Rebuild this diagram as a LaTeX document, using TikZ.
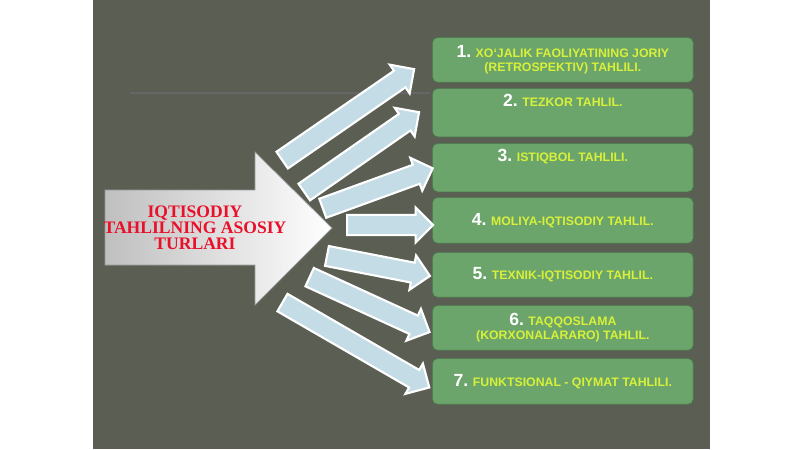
\documentclass[tikz,border=0pt]{standalone}
\usepackage{fontspec}
\setsansfont{Liberation Sans}
\setmainfont{Liberation Serif}
\usetikzlibrary{shapes.arrows,calc}
\definecolor{slide}{HTML}{5B5F53}
\definecolor{boxgreen}{HTML}{6BA56B}
\definecolor{lime}{HTML}{D8F03A}
\definecolor{pale}{HTML}{C4DCE6}
\definecolor{titlered}{HTML}{E8102A}
\tikzset{
  turbox/.style={draw=boxgreen!70!black, fill=boxgreen, rounded corners=3pt,
    minimum width=5.22cm, align=center, font=\sffamily\scriptsize\bfseries,
    text=lime, anchor=north west},
  thin arrow/.style={single arrow, draw=white, fill=pale, line width=1.2pt,
    inner xsep=0pt, inner ysep=0.17cm, minimum width=0.7cm,
    single arrow head extend=0.14cm, single arrow head indent=0pt}
}
\begin{document}
\begin{tikzpicture}[x=0.02cm, y=-0.02cm]
  \useasboundingbox (0,0) rectangle (800,449);
  \fill[white] (0,0) rectangle (800,449);
  % slide background
  \fill[slide] (93,0) rectangle (710,449);
  \draw[black!60, line width=0.6pt] (130,93) -- (430,93);

  % main arrow
  \shade[left color=black!25, right color=white, draw=black!40]
    (105,190) -- (255,190) -- (255,152) -- (332,228) -- (255,305) -- (255,265)
    -- (105,265) -- cycle;
  \node[align=center, text=titlered, font=\rmfamily\bfseries] (title)
    at (195,228) {IQTISODIY\\[-3pt]TAHLILNING ASOSIY\\[-3pt]TURLARI};

  % boxes
  \node[turbox, minimum height=0.9cm] (t1) at (432,37)
    {{\normalsize\color{white}1.} XO`JALIK FAOLIYATINING JORIY\\(RETROSPEKTIV) TAHLILI.};
  \node[turbox, minimum height=0.94cm, text depth=14pt] (t2) at (432,88)
    {{\normalsize\color{white}2.} TEZKOR TAHLIL.};
  \node[turbox, minimum height=0.92cm, text depth=14pt] (t3) at (432,143)
    {{\normalsize\color{white}3.} ISTIQBOL TAHLILI.};
  \node[turbox, minimum height=0.92cm] (t4) at (432,197)
    {{\normalsize\color{white}4.} MOLIYA-IQTISODIY TAHLIL.};
  \node[turbox, minimum height=0.9cm] (t5) at (432,252)
    {{\normalsize\color{white}5.} TEXNIK-IQTISODIY TAHLIL.};
  \node[turbox, minimum height=0.9cm] (t6) at (432,305)
    {{\normalsize\color{white}6.} TAQQOSLAMA\\(KORXONALARARO) TAHLIL.};
  \node[turbox, minimum height=0.92cm] (t7) at (432,358)
    {{\normalsize\color{white}7.} FUNKTSIONAL - QIYMAT TAHLILI.};

  % pointing arrows
  \foreach \sx/\sy/\ex/\ey [count=\i] in {278/163/410/72, 300/195/415/115,
      318/210/428/170, 342/225/428/225, 322/255/425/275, 305/275/425/330,
      278/300/425/385}{
    \coordinate (s\i) at (\sx,\sy);
    \coordinate (e\i) at (\ex,\ey);
    \path let \p1=(s\i), \p2=(e\i), \n1={atan2(\y2-\y1,\x2-\x1)},
      \n2={veclen(\x2-\x1,\y2-\y1)} in
      node[thin arrow, minimum height=\n2, rotate=\n1] (a\i)
        at ($(s\i)!0.5!(e\i)$) {};
  }
\end{tikzpicture}
\end{document}
